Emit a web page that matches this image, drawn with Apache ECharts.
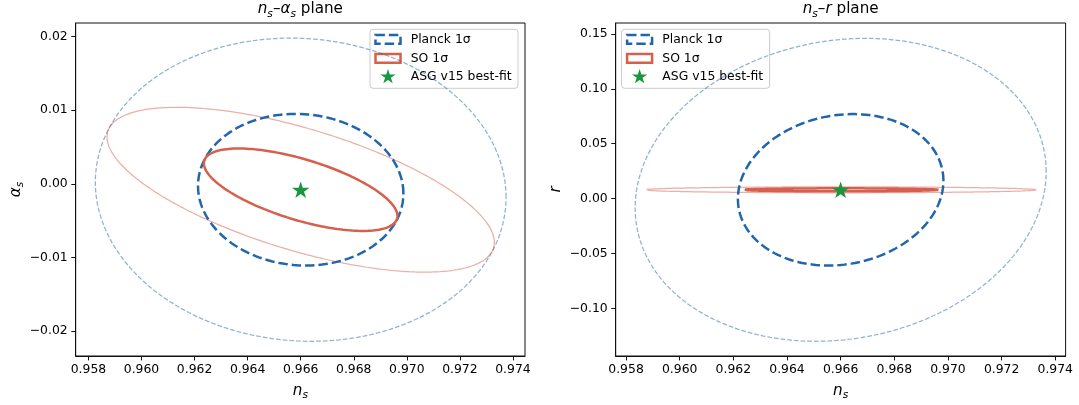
<!DOCTYPE html>
<html>
<head>
<meta charset="utf-8">
<script src="https://cdn.jsdelivr.net/npm/echarts@6/dist/echarts.min.js"></script>
<style>
html, body { margin: 0; padding: 0; background: #fff; }
#main { width: 1079px; height: 405px; }
</style>
</head>
<body>
<div id="main"></div>
<script>
var nsTicks = [0.958, 0.960, 0.962, 0.964, 0.966, 0.968, 0.970, 0.972, 0.974];
var alphaTicks = [-0.02, -0.01, 0.00, 0.01, 0.02];
var rTicks = [-0.10, -0.05, 0.00, 0.05, 0.10, 0.15];

// contour params: [centre ns, centre y, 1σ half-width in ns, 1σ half-width in y, correlation]
var planckAlpha = [0.966, -0.0008, 0.00387, 0.0103, -0.05];
var soAlpha = [0.966, -0.0008, 0.00365, 0.0056, -0.64];
var planckR = [0.966, 0.008, 0.00383, 0.069, 0.12];
var soR = [0.966, 0.008, 0.00365, 0.00135, 0.0];
var sigmaLevels = [1, 2];
var bestFitAlpha = [[0.966, -0.0008]];
var bestFitR = [[0.966, 0.008]];

var planckColor = '#2166ac';
var soColor = '#d6604d';
var starColor = '#1a9641';
var font = "'DejaVu Sans', sans-serif";
var starPts = [[0, -1], [0.2245, -0.309], [0.951, -0.309], [0.363, 0.118], [0.588, 0.809], [0, 0.382],
               [-0.588, 0.809], [-0.363, 0.118], [-0.951, -0.309], [-0.2245, -0.309]];
var starPath = 'M' + starPts.map(function (p) { return (p[0] * 100) + ',' + (p[1] * 100); }).join(' L') + ' Z';

var chartDom = document.getElementById('main');
var myChart = echarts.init(chartDom);

// Gaussian 1σ/2σ contour from the parameters above
function contour(p, k) {
    var pts = [];
    var s = Math.sqrt(1 - p[4] * p[4]);
    for (var i = 0; i <= 360; i++) {
        var t = i * Math.PI / 180;
        pts.push([p[0] + k * p[2] * Math.cos(t),
                  p[1] + k * p[3] * (p[4] * Math.cos(t) + s * Math.sin(t))]);
    }
    return pts;
}

var richMath = {
    i: { fontStyle: 'italic', fontFamily: font, fontSize: 15.2, lineHeight: 20, color: '#000' },
    s: { fontStyle: 'italic', fontFamily: font, fontSize: 10.6, lineHeight: 11.6, verticalAlign: 'bottom', color: '#000' }
};

function xAxisFor(gi, min, max) {
    return {
        gridIndex: gi, type: 'value', min: min, max: max,
        name: '{i|n}{s|s}', nameLocation: 'middle', nameGap: 24,
        nameTextStyle: { fontFamily: font, fontSize: 15.2, lineHeight: 20, color: '#000', rich: richMath },
        axisLine: { show: true, onZero: false, lineStyle: { color: '#111', width: 1 } },
        axisTick: { show: true, length: 4.4, customValues: nsTicks, lineStyle: { color: '#111', width: 1 } },
        axisLabel: { customValues: nsTicks, margin: 8, fontFamily: font, fontSize: 12.4, color: '#000',
            formatter: function (v) { return v.toFixed(3); } },
        splitLine: { show: false }
    };
}

function yAxisFor(gi, min, max, ticks, label) {
    return {
        gridIndex: gi, type: 'value', min: min, max: max,
        name: label, nameLocation: 'middle', nameGap: 46,
        nameTextStyle: { fontFamily: font, fontSize: 15.2, lineHeight: 20, color: '#000', rich: richMath },
        axisLine: { show: true, onZero: false, lineStyle: { color: '#111', width: 1 } },
        axisTick: { show: true, length: 4.4, customValues: ticks, lineStyle: { color: '#111', width: 1 } },
        axisLabel: { customValues: ticks, margin: 8, fontFamily: font, fontSize: 12.4, color: '#000',
            formatter: function (v) { return (v < -1e-9 ? '\u2212' : '') + Math.abs(v).toFixed(2); } },
        splitLine: { show: false }
    };
}

function seriesFor(gi, planck, so, best) {
    var list = [];
    list.push({ name: 'Planck 2σ', type: 'line', xAxisIndex: gi, yAxisIndex: gi, data: contour(planck, sigmaLevels[1]),
        showSymbol: false, silent: true,
        lineStyle: { color: planckColor, width: 1.25, opacity: 0.5, type: [4.7, 2] } });
    list.push({ name: 'SO 2σ', type: 'line', xAxisIndex: gi, yAxisIndex: gi, data: contour(so, sigmaLevels[1]),
        showSymbol: false, silent: true,
        lineStyle: { color: soColor, width: 1.25, opacity: 0.5 } });
    list.push({ name: 'Planck 1σ', type: 'line', xAxisIndex: gi, yAxisIndex: gi, data: contour(planck, sigmaLevels[0]),
        showSymbol: false, silent: true,
        lineStyle: { color: planckColor, width: 2.5, type: [9.4, 4] } });
    list.push({ name: 'SO 1σ', type: 'line', xAxisIndex: gi, yAxisIndex: gi, data: contour(so, sigmaLevels[0]),
        showSymbol: false, silent: true,
        lineStyle: { color: soColor, width: 2.5 } });
    list.push({ name: 'ASG v15 best-fit', type: 'scatter', xAxisIndex: gi, yAxisIndex: gi, data: best,
        symbol: 'path://' + starPath, symbolSize: [17.5, 16.6], z: 5,
        itemStyle: { color: starColor, opacity: 1 } });
    return list;
}

function legendBox(x0) {
    var txt = { fontFamily: font, fontSize: 12.4, fill: '#000', verticalAlign: 'middle', align: 'left' };
    var cx = 18, cy = 47.6, rad = 8;
    return {
        type: 'group', x: x0, y: 29.3, z: 100,
        children: [
            { type: 'rect', shape: { x: 0, y: 0, width: 148, height: 59, r: 3 },
              style: { fill: 'rgba(255,255,255,0.8)', stroke: '#cccccc', lineWidth: 1 } },
            { type: 'rect', shape: { x: 5.5, y: 5.6, width: 25, height: 8.8 },
              style: { fill: 'none', stroke: planckColor, lineWidth: 2.5, lineDash: [9.4, 4] } },
            { type: 'text', x: 40.7, y: 10, style: Object.assign({ text: 'Planck 1σ' }, txt) },
            { type: 'rect', shape: { x: 5.5, y: 24.6, width: 25, height: 8.8 },
              style: { fill: 'none', stroke: soColor, lineWidth: 2.5 } },
            { type: 'text', x: 40.7, y: 29, style: Object.assign({ text: 'SO 1σ' }, txt) },
            { type: 'polygon', shape: { points: starPts.map(function (p) { return [cx + p[0] * rad, cy + p[1] * rad]; }) },
              style: { fill: starColor } },
            { type: 'text', x: 40.7, y: 47.4, style: Object.assign({ text: 'ASG v15 best-fit' }, txt) }
        ]
    };
}

function titleText(cx, text) {
    return { type: 'text', x: cx, y: 9.5, z: 100,
        style: { text: text, align: 'center', verticalAlign: 'middle', fontFamily: font, fontSize: 15.2,
                 lineHeight: 20, fill: '#000', rich: richMath } };
}

var option = {
    animation: false,
    backgroundColor: '#fff',
    grid: [
        { left: 75.7, top: 23, width: 449.3, height: 333, outerBoundsMode: 'none', containLabel: false,
          show: true, borderColor: '#111', borderWidth: 1, backgroundColor: 'transparent' },
        { left: 615.7, top: 23, width: 449.9, height: 333, outerBoundsMode: 'none', containLabel: false,
          show: true, borderColor: '#111', borderWidth: 1, backgroundColor: 'transparent' }
    ],
    xAxis: [xAxisFor(0, 0.95752, 0.974454), xAxisFor(1, 0.957615, 0.974385)],
    yAxis: [
        yAxisFor(0, -0.0234, 0.021857, alphaTicks, '{i|α}{s|s}'),
        yAxisFor(1, -0.14344, 0.16002, rTicks, '{i|r}')
    ],
    series: seriesFor(0, planckAlpha, soAlpha, bestFitAlpha).concat(seriesFor(1, planckR, soR, bestFitR)),
    graphic: [
        titleText(300.35, '{i|n}{s|s}–{i|α}{s|s} plane'),
        titleText(840.65, '{i|n}{s|s}–{i|r} plane'),
        legendBox(370),
        legendBox(621.6)
    ]
};

myChart.setOption(option);
</script>
</body>
</html>
